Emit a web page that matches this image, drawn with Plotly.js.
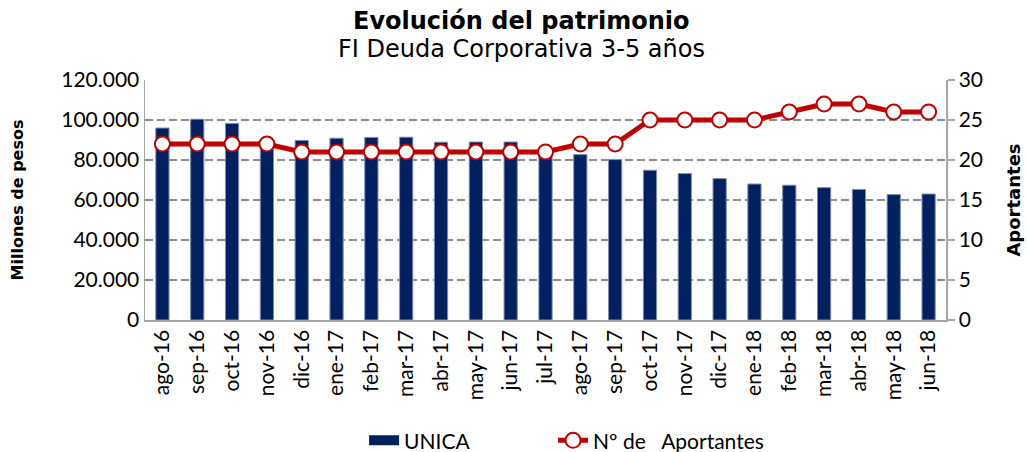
<!DOCTYPE html>
<html>
<head>
<meta charset="utf-8">
<script src="https://cdn.plot.ly/plotly-3.0.1.min.js"></script>
<style>html,body{margin:0;padding:0;background:#fff;}#chart{width:1027px;height:452px;}</style>
</head>
<body>
<div id="chart"></div>
<script>
const months = ["ago-16","sep-16","oct-16","nov-16","dic-16","ene-17","feb-17","mar-17","abr-17","may-17","jun-17","jul-17","ago-17","sep-17","oct-17","nov-17","dic-17","ene-18","feb-18","mar-18","abr-18","may-18","jun-18"];
const patrimonio = [96000,100400,98300,89000,89800,90900,91300,91400,88900,89000,89000,86000,82700,80200,74900,73200,70700,68000,67400,66200,65300,62700,63000];
const aportantes = [22,22,22,22,21,21,21,21,21,21,21,21,22,22,25,25,25,25,26,27,27,26,26];
const yTickVals = [0,20000,40000,60000,80000,100000,120000];
const yTickText = ["0","20.000","40.000","60.000","80.000","100.000","120.000"];
const y2TickVals = [0,5,10,15,20,25,30];
const titleText = "Evolución del patrimonio";
const subtitleText = "FI Deuda Corporativa 3-5 años";
const barName = "UNICA";
const lineName = "Nº de&nbsp;&nbsp;&nbsp;Aportantes";

const tickFont = {family:"Lato, 'Open Sans', sans-serif", size:21, color:"#000"};
const legendFont = {family:"Lato, 'Open Sans', sans-serif", size:21, color:"#000"};
const verdana = "'DejaVu Sans', Verdana, sans-serif";
const navy = "#002060", red = "#C00000";
const data = [
  {type:"bar", name:barName, x:months, y:patrimonio, showlegend:false,
   marker:{color:navy, line:{color:"#7f8fb0", width:1}}, hoverinfo:"skip"},
  // legend-only entry giving the rectangular swatch of the bar series
  {type:"scatter", mode:"lines", name:barName, x:[null], y:[null], legend:"legend",
   line:{color:navy, width:10}, hoverinfo:"skip"},
  {type:"scatter", mode:"lines+markers", name:lineName, x:months, y:aportantes, yaxis:"y2", legend:"legend2",
   line:{color:red, width:5},
   marker:{size:15, color:"#ffffff", line:{color:red, width:2}}, hoverinfo:"skip"}
];
const layout = {
  width:1027, height:452,
  margin:{l:145, r:81, t:80, b:132},
  paper_bgcolor:"#fff", plot_bgcolor:"#fff",
  showlegend:true,
  bargap:0.62,
  xaxis:{type:"category", categoryarray:months, range:[-0.5, months.length-0.5], tickangle:-90, tickfont:tickFont,
         showgrid:false, automargin:false,
         showline:true, linecolor:"#a6a6a6", linewidth:1.5, ticks:"", fixedrange:true},
  yaxis:{range:[0,120000], tickvals:yTickVals, ticktext:yTickText, tickfont:tickFont, automargin:false,
         showgrid:true, gridcolor:"#8c8c8c", gridwidth:1.5, griddash:"8px,4px",
         showline:true, linecolor:"#a6a6a6", linewidth:1.5, zeroline:false, ticks:"",
         title:{text:"<b>Millones de pesos</b>", font:{family:verdana, size:16, color:"#000"}, standoff:33}},
  yaxis2:{range:[0,30], tickvals:y2TickVals, overlaying:"y", side:"right", tickfont:tickFont, automargin:false,
          showgrid:false, showline:true, linecolor:"#a6a6a6", linewidth:1.5, zeroline:false,
          ticks:"outside", ticklen:7, tickcolor:"#a6a6a6", tickwidth:1.5,
          title:{text:"<b>Aportantes</b>", font:{family:verdana, size:18, color:"#000"}, standoff:25}},
  legend:{orientation:"h", xref:"container", yref:"container", x:0.3545, xanchor:"left", y:0.025, yanchor:"middle",
          font:legendFont},
  legend2:{orientation:"h", xref:"container", yref:"container", x:0.5385, xanchor:"left", y:0.025, yanchor:"middle",
          font:legendFont},
  annotations:[
    {text:"<b>"+titleText+"</b>", xref:"paper", yref:"paper", x:0.47, y:1, xanchor:"center", yanchor:"middle",
     showarrow:false, font:{family:verdana, size:24, color:"#000"}},
    {text:subtitleText, xref:"paper", yref:"paper", x:0.47, y:1, xanchor:"center", yanchor:"middle",
     showarrow:false, font:{family:verdana, size:24, color:"#000"}}
  ],
  hovermode:false
};
// place title lines at fixed pixel heights above the plot
layout.annotations[0].yshift = 80 - 21;
layout.annotations[1].yshift = 80 - 49;
Plotly.newPlot("chart", data, layout, {staticPlot:true, displayModeBar:false});
</script>
</body>
</html>
